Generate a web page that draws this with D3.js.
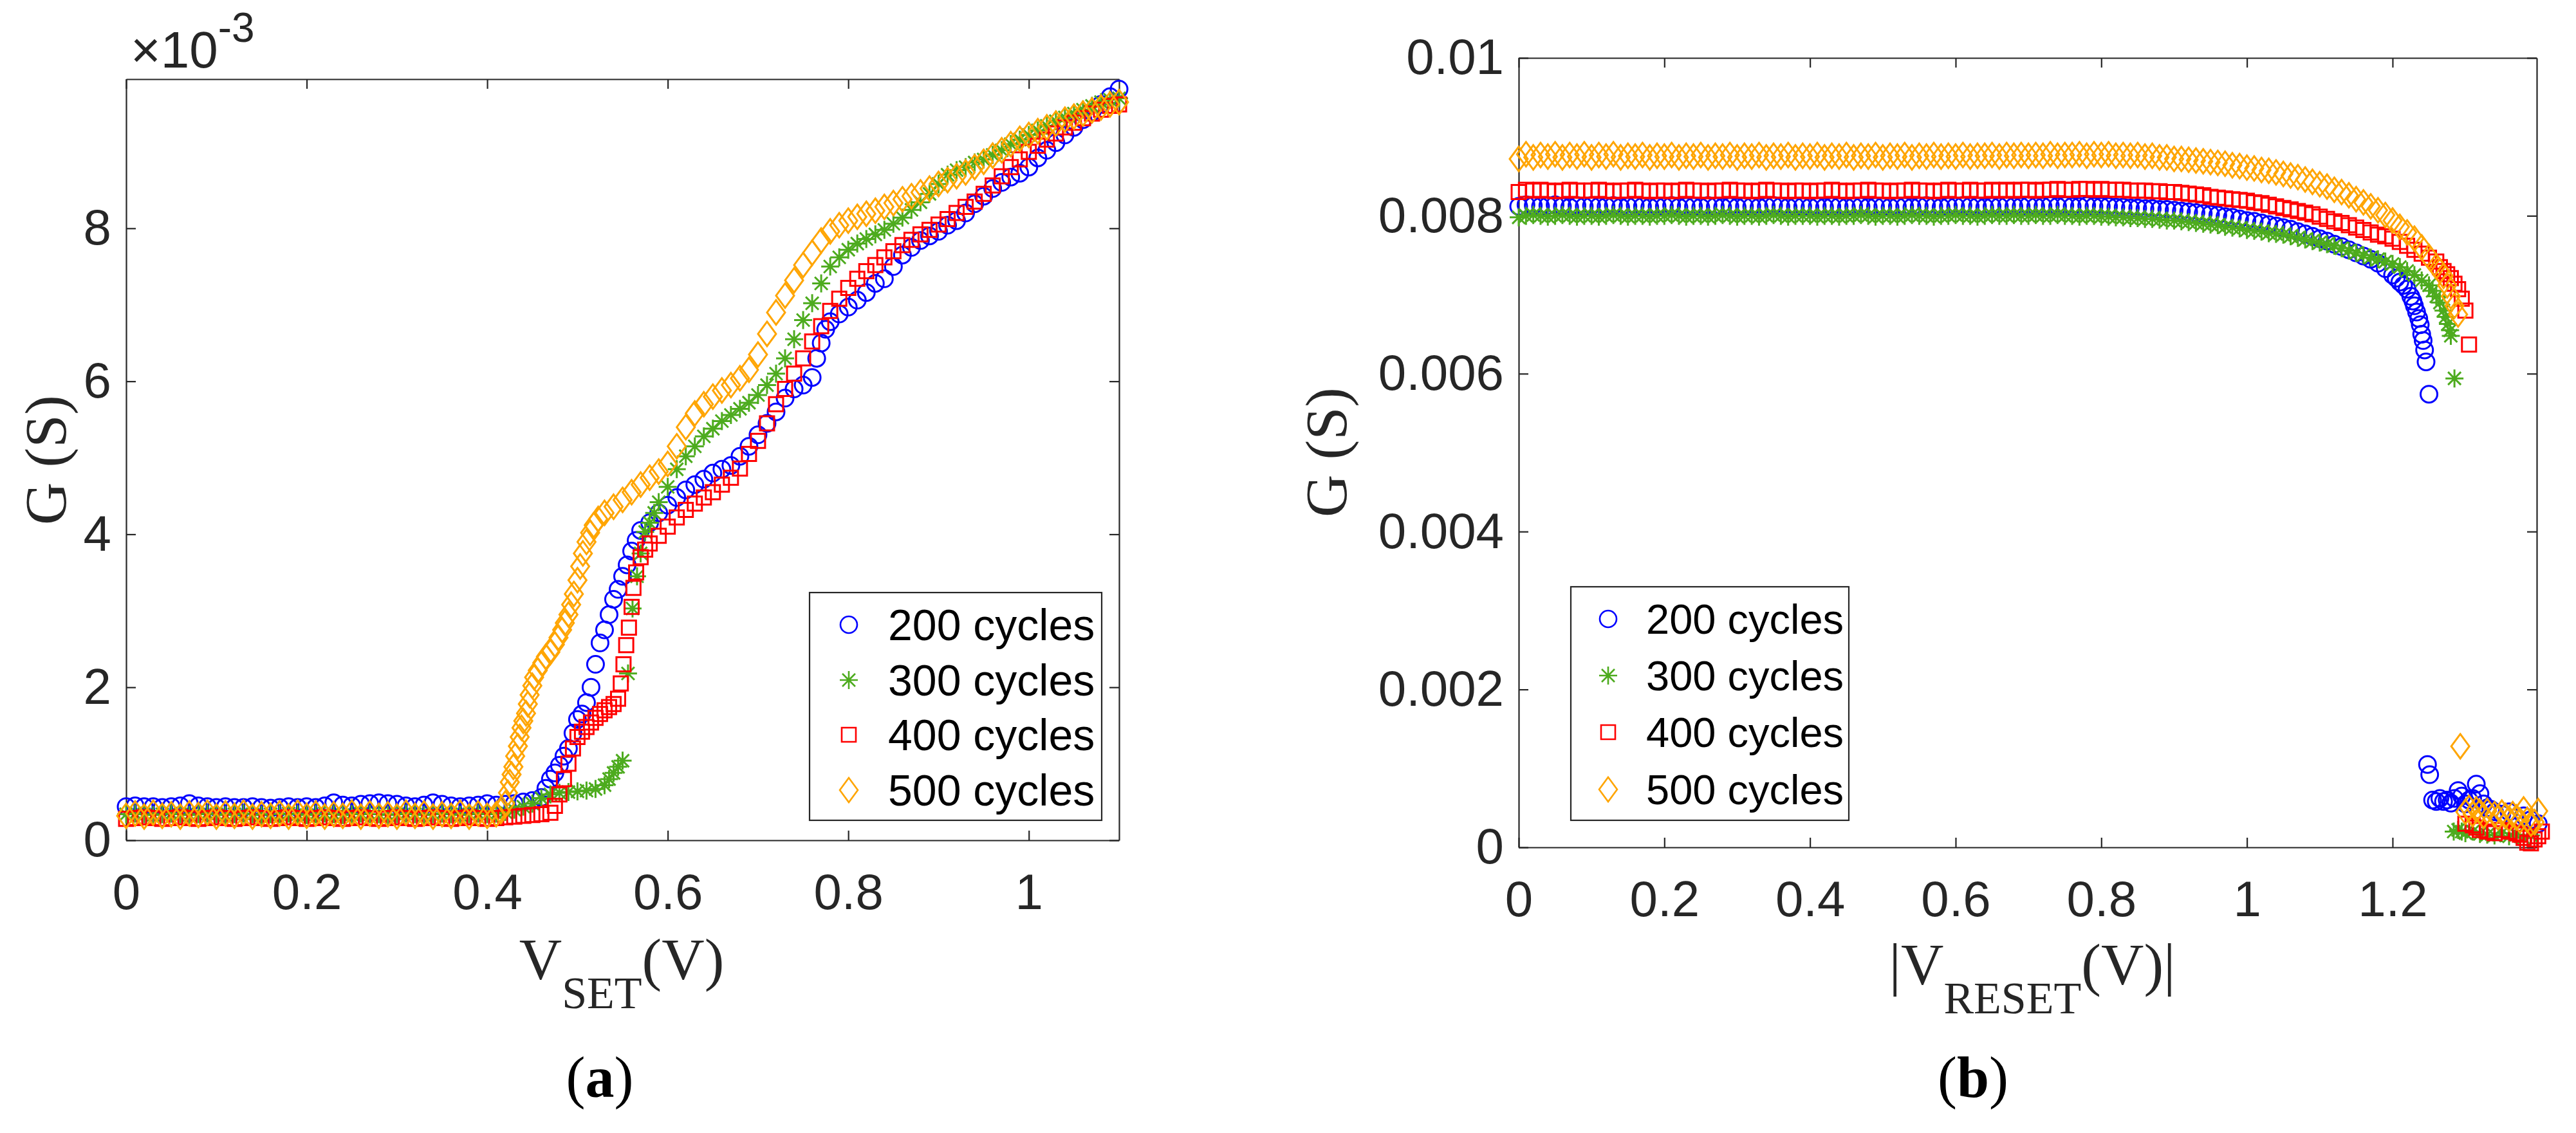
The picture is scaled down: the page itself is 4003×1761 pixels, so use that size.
<!DOCTYPE html>
<html>
<head>
<meta charset="utf-8">
<script src="https://cdn.jsdelivr.net/npm/d3@7"></script>
<style>
  body { margin: 0; background: #fff; }
</style>
</head>
<body>
<script>
// ---------------- data (V in volts, G in 1e-3 S) ----------------

// (a) SET sweep, [V, G]
var set200 = [
  [0.00,0.44],[0.01,0.45],[0.02,0.44],[0.03,0.44],[0.04,0.43],[0.05,0.44],[0.06,0.45],[0.07,0.48],[0.08,0.45],[0.09,0.44],
  [0.10,0.43],[0.11,0.44],[0.12,0.43],[0.13,0.43],[0.14,0.44],[0.15,0.43],[0.16,0.42],[0.17,0.43],[0.18,0.44],[0.19,0.43],
  [0.20,0.44],[0.21,0.43],[0.22,0.45],[0.23,0.49],[0.24,0.46],[0.25,0.45],[0.26,0.47],[0.27,0.48],[0.28,0.49],[0.29,0.48],
  [0.30,0.47],[0.31,0.45],[0.32,0.44],[0.33,0.46],[0.34,0.49],[0.35,0.47],[0.36,0.45],[0.37,0.44],[0.38,0.45],[0.39,0.46],
  [0.40,0.48],[0.41,0.46],[0.42,0.47],[0.43,0.48],[0.44,0.50],[0.45,0.52],[0.46,0.56],[0.465,0.68],[0.47,0.80],[0.475,0.88],
  [0.48,0.98],[0.485,1.10],[0.49,1.20],[0.495,1.40],[0.50,1.58],[0.505,1.65],[0.51,1.80],[0.515,2.00],[0.52,2.30],[0.525,2.58],
  [0.53,2.75],[0.535,2.95],[0.54,3.15],[0.545,3.28],[0.55,3.45],[0.555,3.60],[0.56,3.78],[0.565,3.92],[0.57,4.05],[0.58,4.15],
  [0.59,4.28],[0.60,4.38],[0.61,4.48],[0.62,4.58],[0.63,4.65],[0.64,4.72],[0.65,4.80],[0.66,4.85],[0.67,4.90],[0.68,5.02],
  [0.69,5.15],[0.70,5.30],[0.71,5.45],[0.72,5.60],[0.73,5.78],[0.74,5.90],[0.75,5.95],[0.76,6.05],[0.765,6.30],[0.77,6.50],
  [0.775,6.68],[0.78,6.78],[0.79,6.88],[0.80,6.97],[0.81,7.06],[0.82,7.16],[0.83,7.28],[0.84,7.34],[0.85,7.50],[0.86,7.65],
  [0.87,7.75],[0.88,7.84],[0.89,7.90],[0.90,7.96],[0.91,8.04],[0.92,8.10],[0.93,8.20],[0.94,8.32],[0.95,8.42],[0.96,8.52],
  [0.97,8.60],[0.98,8.67],[0.99,8.72],[1.00,8.80],[1.01,8.92],[1.02,9.02],[1.03,9.12],[1.04,9.22],[1.05,9.32],[1.06,9.42],
  [1.07,9.52],[1.08,9.62],[1.09,9.72],[1.10,9.82]
];
var set300 = [
  [0.00,0.34],[0.01,0.35],[0.02,0.34],[0.03,0.33],[0.04,0.34],[0.05,0.35],[0.06,0.34],[0.07,0.33],[0.08,0.34],[0.09,0.35],
  [0.10,0.34],[0.11,0.33],[0.12,0.34],[0.13,0.35],[0.14,0.34],[0.15,0.33],[0.16,0.34],[0.17,0.34],[0.18,0.35],[0.19,0.34],
  [0.20,0.33],[0.21,0.34],[0.22,0.35],[0.23,0.34],[0.24,0.33],[0.25,0.34],[0.26,0.35],[0.27,0.34],[0.28,0.34],[0.29,0.33],
  [0.30,0.34],[0.31,0.35],[0.32,0.34],[0.33,0.33],[0.34,0.34],[0.35,0.35],[0.36,0.34],[0.37,0.33],[0.38,0.34],[0.39,0.35],
  [0.40,0.34],[0.41,0.35],[0.42,0.37],[0.43,0.40],[0.44,0.44],[0.45,0.48],[0.46,0.55],[0.47,0.60],[0.48,0.62],[0.49,0.63],
  [0.50,0.64],[0.51,0.65],[0.52,0.67],[0.53,0.72],[0.535,0.80],[0.54,0.88],[0.545,0.96],[0.55,1.04],[0.556,2.18],[0.561,3.03],
  [0.566,3.45],[0.57,3.75],[0.575,4.03],[0.58,4.15],[0.585,4.28],[0.59,4.42],[0.60,4.62],[0.61,4.85],[0.62,5.02],[0.63,5.15],
  [0.64,5.28],[0.65,5.38],[0.66,5.48],[0.67,5.56],[0.68,5.64],[0.69,5.72],[0.70,5.82],[0.71,5.95],[0.72,6.10],[0.73,6.30],
  [0.74,6.55],[0.75,6.80],[0.76,7.02],[0.77,7.28],[0.78,7.50],[0.79,7.62],[0.80,7.72],[0.81,7.80],[0.82,7.86],[0.83,7.92],
  [0.84,7.98],[0.85,8.06],[0.86,8.14],[0.87,8.24],[0.88,8.34],[0.89,8.45],[0.90,8.58],[0.91,8.70],[0.92,8.76],[0.93,8.80],
  [0.94,8.86],[0.95,8.90],[0.96,8.96],[0.97,9.02],[0.98,9.10],[0.99,9.16],[1.00,9.22],[1.01,9.28],[1.02,9.34],[1.03,9.40],
  [1.04,9.45],[1.05,9.50],[1.06,9.55],[1.07,9.60],[1.08,9.65],[1.09,9.68],[1.10,9.70]
];
var set400 = [
  [0.00,0.28],[0.01,0.29],[0.02,0.30],[0.03,0.29],[0.04,0.28],[0.05,0.29],[0.06,0.30],[0.07,0.29],[0.08,0.28],[0.09,0.29],
  [0.10,0.30],[0.11,0.29],[0.12,0.28],[0.13,0.29],[0.14,0.30],[0.15,0.29],[0.16,0.28],[0.17,0.29],[0.18,0.30],[0.19,0.29],
  [0.20,0.28],[0.21,0.29],[0.22,0.30],[0.23,0.29],[0.24,0.28],[0.25,0.29],[0.26,0.30],[0.27,0.29],[0.28,0.28],[0.29,0.29],
  [0.30,0.30],[0.31,0.29],[0.32,0.28],[0.33,0.29],[0.34,0.30],[0.35,0.29],[0.36,0.28],[0.37,0.29],[0.38,0.30],[0.39,0.29],
  [0.40,0.28],[0.41,0.29],[0.42,0.30],[0.43,0.31],[0.44,0.32],[0.45,0.33],[0.46,0.34],[0.47,0.36],[0.475,0.45],[0.48,0.60],
  [0.485,0.80],[0.49,1.00],[0.495,1.20],[0.50,1.35],[0.505,1.42],[0.51,1.48],[0.515,1.54],[0.52,1.60],[0.525,1.65],[0.53,1.70],
  [0.535,1.74],[0.54,1.78],[0.545,1.85],[0.548,2.05],[0.551,2.30],[0.554,2.55],[0.557,2.78],[0.56,3.05],[0.562,3.30],[0.565,3.50],
  [0.57,3.70],[0.575,3.80],[0.58,3.88],[0.59,3.98],[0.60,4.10],[0.61,4.22],[0.62,4.32],[0.63,4.40],[0.64,4.48],[0.65,4.55],
  [0.66,4.65],[0.67,4.74],[0.68,4.86],[0.69,5.05],[0.70,5.22],[0.71,5.45],[0.72,5.70],[0.73,5.90],[0.74,6.10],[0.75,6.30],
  [0.76,6.52],[0.77,6.72],[0.78,6.92],[0.79,7.08],[0.80,7.22],[0.81,7.34],[0.82,7.44],[0.83,7.52],[0.84,7.62],[0.85,7.70],
  [0.86,7.78],[0.87,7.85],[0.88,7.92],[0.89,7.98],[0.90,8.05],[0.91,8.12],[0.92,8.20],[0.93,8.28],[0.94,8.35],[0.95,8.45],
  [0.96,8.56],[0.97,8.68],[0.98,8.80],[0.99,8.90],[1.00,9.00],[1.01,9.08],[1.02,9.16],[1.03,9.24],[1.04,9.32],[1.05,9.38],
  [1.06,9.44],[1.07,9.50],[1.08,9.55],[1.09,9.60],[1.10,9.62]
];
var set500 = [
  [0.00,0.32],[0.01,0.35],[0.02,0.31],[0.03,0.36],[0.04,0.32],[0.05,0.34],[0.06,0.31],[0.07,0.35],[0.08,0.33],[0.09,0.36],
  [0.10,0.31],[0.11,0.35],[0.12,0.32],[0.13,0.36],[0.14,0.31],[0.15,0.34],[0.16,0.32],[0.17,0.35],[0.18,0.31],[0.19,0.36],
  [0.20,0.32],[0.21,0.35],[0.22,0.31],[0.23,0.34],[0.24,0.32],[0.25,0.36],[0.26,0.31],[0.27,0.35],[0.28,0.32],[0.29,0.34],
  [0.30,0.31],[0.31,0.36],[0.32,0.32],[0.33,0.35],[0.34,0.31],[0.35,0.34],[0.36,0.32],[0.37,0.36],[0.38,0.31],[0.39,0.35],
  [0.40,0.32],[0.41,0.34],[0.415,0.38],[0.42,0.48],[0.423,0.62],[0.425,0.76],[0.427,0.86],[0.429,0.96],[0.431,1.10],[0.434,1.23],
  [0.436,1.35],[0.438,1.47],[0.44,1.56],[0.443,1.66],[0.445,1.78],[0.447,1.90],[0.45,2.02],[0.452,2.13],[0.456,2.22],[0.461,2.32],
  [0.465,2.40],[0.47,2.46],[0.475,2.56],[0.479,2.65],[0.483,2.75],[0.486,2.84],[0.49,2.95],[0.493,3.08],[0.496,3.22],[0.50,3.40],
  [0.503,3.58],[0.506,3.75],[0.51,3.90],[0.514,4.02],[0.518,4.12],[0.523,4.20],[0.53,4.28],[0.54,4.36],[0.55,4.45],[0.56,4.55],
  [0.57,4.65],[0.58,4.74],[0.59,4.82],[0.60,4.92],[0.61,5.15],[0.62,5.40],[0.63,5.58],[0.64,5.70],[0.65,5.80],[0.66,5.88],
  [0.67,5.95],[0.68,6.04],[0.69,6.15],[0.70,6.35],[0.71,6.62],[0.72,6.90],[0.73,7.12],[0.74,7.32],[0.75,7.52],[0.76,7.68],
  [0.77,7.84],[0.78,7.96],[0.79,8.04],[0.80,8.10],[0.81,8.15],[0.82,8.19],[0.83,8.23],[0.84,8.28],[0.85,8.33],[0.86,8.38],
  [0.87,8.42],[0.88,8.47],[0.89,8.52],[0.90,8.58],[0.91,8.63],[0.92,8.68],[0.93,8.73],[0.94,8.80],[0.95,8.87],[0.96,8.95],
  [0.97,9.02],[0.98,9.10],[0.99,9.17],[1.00,9.22],[1.01,9.27],[1.02,9.32],[1.03,9.37],[1.04,9.42],[1.05,9.46],[1.06,9.50],
  [1.07,9.54],[1.08,9.58],[1.09,9.62],[1.10,9.65]
];

// (b) RESET sweep: common |V| grid 0 .. 1.20, then each curve's knee and tail as [V, G]
var resetGrid = [
  0.00,0.01,0.02,0.03,0.04,0.05,0.06,0.07,0.08,0.09,0.10,0.11,0.12,0.13,0.14,0.15,0.16,0.17,0.18,0.19,
  0.20,0.21,0.22,0.23,0.24,0.25,0.26,0.27,0.28,0.29,0.30,0.31,0.32,0.33,0.34,0.35,0.36,0.37,0.38,0.39,
  0.40,0.41,0.42,0.43,0.44,0.45,0.46,0.47,0.48,0.49,0.50,0.51,0.52,0.53,0.54,0.55,0.56,0.57,0.58,0.59,
  0.60,0.61,0.62,0.63,0.64,0.65,0.66,0.67,0.68,0.69,0.70,0.71,0.72,0.73,0.74,0.75,0.76,0.77,0.78,0.79,
  0.80,0.81,0.82,0.83,0.84,0.85,0.86,0.87,0.88,0.89,0.90,0.91,0.92,0.93,0.94,0.95,0.96,0.97,0.98,0.99,
  1.00,1.01,1.02,1.03,1.04,1.05,1.06,1.07,1.08,1.09,1.10,1.11,1.12,1.13,1.14,1.15,1.16,1.17,1.18,1.19,
  1.20
];
var reset200 = [
  8.12,8.14,8.13,8.12,8.13,8.14,8.12,8.11,8.13,8.12,8.13,8.12,8.12,8.13,8.11,8.12,8.13,8.12,8.11,8.12,
  8.12,8.13,8.11,8.12,8.12,8.11,8.13,8.12,8.11,8.12,8.11,8.12,8.12,8.11,8.12,8.13,8.12,8.11,8.12,8.12,
  8.11,8.12,8.11,8.12,8.12,8.11,8.12,8.12,8.11,8.12,8.12,8.11,8.12,8.12,8.11,8.12,8.13,8.12,8.11,8.12,
  8.12,8.13,8.12,8.12,8.11,8.12,8.12,8.13,8.12,8.12,8.13,8.12,8.12,8.13,8.12,8.13,8.12,8.12,8.13,8.12,
  8.12,8.12,8.11,8.11,8.10,8.10,8.09,8.09,8.08,8.08,8.07,8.06,8.05,8.04,8.03,8.02,8.01,7.99,7.98,7.96,
  7.94,7.93,7.91,7.89,7.87,7.85,7.83,7.80,7.77,7.74,7.71,7.68,7.64,7.61,7.57,7.53,7.49,7.45,7.40,7.33,
  7.25
];
var reset300 = [
  7.98,8.00,8.01,8.00,7.99,8.00,8.01,8.00,7.99,8.00,8.00,7.99,8.00,8.01,8.00,7.99,8.00,8.00,7.99,8.00,
  8.00,8.01,8.00,7.99,8.00,8.00,7.99,8.00,8.01,8.00,7.99,8.00,8.00,7.99,8.00,8.01,8.00,7.99,8.00,8.00,
  8.00,7.99,8.00,8.00,7.99,8.00,8.00,8.01,8.00,7.99,8.00,8.00,7.99,8.00,8.01,8.00,8.00,7.99,8.00,8.00,
  8.01,8.00,8.00,7.99,8.00,8.01,8.00,8.00,8.01,8.00,8.00,8.01,8.00,8.00,8.01,8.00,8.00,7.99,8.00,8.00,
  7.99,7.99,7.98,7.98,7.97,7.97,7.96,7.96,7.95,7.94,7.94,7.93,7.92,7.91,7.90,7.89,7.88,7.86,7.85,7.84,
  7.82,7.81,7.80,7.78,7.77,7.76,7.74,7.72,7.70,7.68,7.66,7.64,7.62,7.59,7.56,7.53,7.50,7.47,7.45,7.42,
  7.39
];
var reset400 = [
  8.30,8.33,8.32,8.33,8.32,8.31,8.32,8.33,8.32,8.32,8.32,8.33,8.32,8.31,8.32,8.32,8.33,8.32,8.31,8.32,
  8.32,8.31,8.32,8.33,8.32,8.32,8.31,8.32,8.32,8.33,8.32,8.32,8.31,8.32,8.33,8.32,8.32,8.31,8.32,8.32,
  8.31,8.32,8.32,8.33,8.32,8.31,8.32,8.32,8.33,8.32,8.32,8.31,8.32,8.32,8.33,8.32,8.32,8.31,8.32,8.33,
  8.32,8.32,8.33,8.32,8.32,8.33,8.32,8.33,8.32,8.33,8.33,8.32,8.33,8.33,8.34,8.33,8.33,8.34,8.34,8.33,
  8.34,8.33,8.33,8.33,8.32,8.32,8.32,8.31,8.31,8.30,8.30,8.29,8.28,8.27,8.26,8.24,8.23,8.22,8.21,8.20,
  8.19,8.17,8.16,8.14,8.12,8.10,8.08,8.06,8.04,8.02,7.99,7.96,7.93,7.91,7.88,7.85,7.82,7.79,7.76,7.74,
  7.71
];
var reset500 = [
  8.72,8.78,8.74,8.77,8.75,8.78,8.74,8.77,8.75,8.78,8.74,8.77,8.75,8.78,8.74,8.76,8.75,8.77,8.74,8.76,
  8.75,8.77,8.74,8.76,8.75,8.77,8.74,8.76,8.75,8.77,8.74,8.76,8.75,8.77,8.74,8.76,8.75,8.77,8.74,8.76,
  8.75,8.77,8.74,8.76,8.75,8.77,8.74,8.76,8.75,8.77,8.74,8.76,8.75,8.77,8.74,8.76,8.75,8.77,8.75,8.76,
  8.75,8.77,8.75,8.76,8.76,8.77,8.75,8.77,8.76,8.77,8.76,8.77,8.76,8.78,8.76,8.77,8.77,8.78,8.76,8.78,
  8.77,8.78,8.76,8.77,8.76,8.77,8.75,8.76,8.74,8.74,8.72,8.72,8.71,8.70,8.69,8.68,8.67,8.66,8.64,8.63,
  8.61,8.60,8.58,8.57,8.55,8.53,8.51,8.49,8.46,8.43,8.40,8.37,8.33,8.30,8.26,8.21,8.17,8.12,8.07,8.01,
  7.94
];
var reset200Tail = [
  [1.205,7.21],[1.21,7.16],[1.215,7.12],[1.22,7.07],[1.225,6.98],[1.228,6.92],[1.23,6.86],[1.233,6.78],[1.236,6.70],
  [1.238,6.62],[1.24,6.50],[1.242,6.42],[1.244,6.30],[1.246,6.15],[1.25,5.74],
  [1.248,1.05],[1.251,0.92],[1.255,0.60],[1.26,0.58],[1.265,0.62],[1.27,0.58],[1.275,0.60],[1.28,0.56],[1.285,0.62],
  [1.29,0.72],[1.295,0.65],[1.30,0.55],[1.305,0.60],[1.31,0.62],[1.315,0.80],[1.32,0.68],[1.325,0.55],[1.33,0.50],
  [1.335,0.48],[1.34,0.45],[1.35,0.42],[1.36,0.45],[1.37,0.38],[1.38,0.40],[1.39,0.35],[1.40,0.30]
];
var reset300Tail = [
  [1.21,7.35],[1.22,7.30],[1.23,7.25],[1.24,7.18],[1.25,7.12],[1.255,7.05],[1.26,6.98],[1.265,6.90],[1.27,6.80],
  [1.273,6.72],[1.276,6.63],[1.279,6.55],[1.28,6.48],[1.285,5.94],
  [1.284,0.20],[1.29,0.22],[1.295,0.20],[1.30,0.18],[1.31,0.20],[1.32,0.17],[1.33,0.16],[1.34,0.15],[1.35,0.18],
  [1.36,0.14],[1.37,0.16],[1.38,0.12],[1.39,0.15]
];
var reset400Tail = [
  [1.21,7.67],[1.22,7.62],[1.23,7.57],[1.24,7.52],[1.25,7.47],[1.26,7.42],[1.265,7.35],[1.27,7.30],[1.275,7.26],
  [1.28,7.21],[1.285,7.14],[1.29,7.07],[1.295,6.95],[1.30,6.80],[1.305,6.37],
  [1.30,0.30],[1.31,0.28],[1.315,0.25],[1.32,0.22],[1.33,0.20],[1.34,0.18],[1.35,0.22],[1.36,0.20],[1.37,0.18],
  [1.375,0.16],[1.38,0.12],[1.385,0.06],[1.39,0.05],[1.395,0.10],[1.40,0.14],[1.405,0.20]
];
var reset500Tail = [
  [1.21,7.86],[1.22,7.79],[1.23,7.71],[1.24,7.60],[1.25,7.48],[1.26,7.36],[1.265,7.30],[1.27,7.24],[1.275,7.12],
  [1.28,6.98],[1.285,6.86],[1.29,6.75],
  [1.293,1.28],[1.30,0.45],[1.305,0.50],[1.31,0.42],[1.315,0.48],[1.32,0.45],[1.325,0.40],[1.33,0.46],[1.34,0.42],
  [1.345,0.38],[1.35,0.44],[1.355,0.40],[1.36,0.36],[1.365,0.42],[1.37,0.38],[1.375,0.34],[1.38,0.48],[1.385,0.35],
  [1.39,0.30],[1.395,0.32],[1.40,0.46]
];

var seriesNames = ['200 cycles', '300 cycles', '400 cycles', '500 cycles'];
var setXTicks = [0, 0.2, 0.4, 0.6, 0.8, 1];
var setYTicks = [0, 2, 4, 6, 8];
var resetXTicks = [0, 0.2, 0.4, 0.6, 0.8, 1, 1.2];
var resetYTicks = [0, 2, 4, 6, 8, 10];

// ---------------- look ----------------
var colors = ['#0000ff', '#4dab1e', '#ff0000', '#ffa500'];
var markers = ['circle', 'asterisk', 'square', 'diamond'];
var axisColor = '#262626';
var sans = 'Liberation Sans, Arial, Helvetica, sans-serif';
var serif = 'Liberation Serif, Times New Roman, serif';

var svg = d3.select('body').append('svg')
    .attr('width', 4003)
    .attr('height', 1761)
    .style('display', 'block');

svg.append('rect').attr('width', 4003).attr('height', 1761).attr('fill', '#fff');

//marker shapes, MATLAB style
function markerPath(type) {
  if (type === 'circle') return 'M-13,0A13,13 0 1,0 13,0A13,13 0 1,0 -13,0Z';
  if (type === 'square') return 'M-11,-11H11V11H-11Z';
  if (type === 'diamond') return 'M0,-19L14,0L0,19L-14,0Z';
  return 'M-14,0H14M0,-14V14M-10,-10L10,10M-10,10L10,-10';
}

function fmtNum(d) { return String(+d.toFixed(3)); }

//box with inward ticks on all four sides
function drawAxes(g, x, y, xTicks, yTicks, xFmt, yFmt) {
  var r = x.range(), b = y.range();
  var parts = [
    g.append('g').attr('transform', 'translate(0,' + b[0] + ')')
      .call(d3.axisBottom(x).tickValues(xTicks).tickSize(-15).tickSizeOuter(0).tickPadding(52).tickFormat(xFmt)),
    g.append('g').attr('transform', 'translate(0,' + b[1] + ')')
      .call(d3.axisTop(x).tickValues(xTicks).tickSize(-15).tickSizeOuter(0).tickFormat('')),
    g.append('g').attr('transform', 'translate(' + r[0] + ',0)')
      .call(d3.axisLeft(y).tickValues(yTicks).tickSize(-15).tickSizeOuter(0).tickPadding(23).tickFormat(yFmt)),
    g.append('g').attr('transform', 'translate(' + r[1] + ',0)')
      .call(d3.axisRight(y).tickValues(yTicks).tickSize(-15).tickSizeOuter(0).tickFormat(''))
  ];
  parts.forEach(function(a) {
    a.attr('font-family', sans).attr('font-size', 78);
    a.selectAll('path, line').attr('stroke', axisColor).attr('stroke-width', 2.2);
    a.selectAll('text').attr('fill', axisColor);
  });
}

function drawSeries(g, x, y, series) {
  series.forEach(function(pts, i) {
    g.append('g').selectAll('path')
      .data(pts)
      .enter().append('path')
      .attr('transform', function(d) { return 'translate(' + x(d[0]) + ',' + y(d[1]) + ')'; })
      .attr('d', markerPath(markers[i]))
      .attr('fill', 'none')
      .attr('stroke', colors[i])
      .attr('stroke-width', 3);
  });
}

function drawLegend(g, left, top, w, h, rows, markerX, textX, fontSize) {
  g.append('rect')
    .attr('x', left).attr('y', top).attr('width', w).attr('height', h)
    .attr('fill', '#fff').attr('stroke', axisColor).attr('stroke-width', 2.2);
  seriesNames.forEach(function(name, i) {
    g.append('path')
      .attr('transform', 'translate(' + markerX + ',' + rows[i] + ')')
      .attr('d', markerPath(markers[i]))
      .attr('fill', 'none').attr('stroke', colors[i]).attr('stroke-width', 2.6);
    g.append('text')
      .attr('x', textX).attr('y', rows[i] + fontSize * 0.36)
      .attr('font-family', sans).attr('font-size', fontSize)
      .attr('fill', '#000')
      .text(name);
  });
}

// ================= panel (a) =================
var gA = svg.append('g');
var xA = d3.scaleLinear().domain([0, 1.1]).range([196, 1739]);
var yA = d3.scaleLinear().domain([0, 9.95]).range([1306, 123]);

drawAxes(gA, xA, yA, setXTicks, setYTicks, fmtNum, fmtNum);
drawSeries(gA, xA, yA, [set200, set300, set400, set500]);
drawLegend(gA, 1258, 921, 454, 354, [971, 1057, 1142, 1228], 1319, 1380, 68);

//exponent label
gA.append('text')
    .attr('x', 203).attr('y', 105)
    .attr('font-family', sans).attr('font-size', 80).attr('fill', axisColor)
    .text('\u00d710')
  .append('tspan')
    .attr('dy', -40).attr('font-size', 64)
    .text('-3');

gA.append('text')
    .attr('transform', 'translate(102,715) rotate(-90)')
    .attr('text-anchor', 'middle')
    .attr('font-family', serif).attr('font-size', 92).attr('fill', axisColor)
    .text('G (S)');

var labA = gA.append('text')
    .attr('x', 966).attr('y', 1522)
    .attr('text-anchor', 'middle')
    .attr('font-family', serif).attr('font-size', 92).attr('fill', axisColor);
labA.append('tspan').text('V');
labA.append('tspan').attr('font-size', 70).attr('dy', 45).text('SET');
labA.append('tspan').attr('dy', -45).text('(V)');

var capA = gA.append('text')
    .attr('x', 932).attr('y', 1705)
    .attr('text-anchor', 'middle')
    .attr('font-family', serif).attr('font-size', 90).attr('fill', '#000');
capA.append('tspan').text('(');
capA.append('tspan').attr('font-weight', 'bold').text('a');
capA.append('tspan').text(')');

// ================= panel (b) =================
var gB = svg.append('g');
var xB = d3.scaleLinear().domain([0, 1.398]).range([2360, 3942]);
var yB = d3.scaleLinear().domain([0, 10]).range([1317, 90]);

function onGrid(vals, tail) {
  return resetGrid.map(function(v, i) { return [v, vals[i]]; }).concat(tail);
}

drawAxes(gB, xB, yB, resetXTicks, resetYTicks, fmtNum, function(d) { return fmtNum(d / 1000); });
drawSeries(gB, xB, yB, [
  onGrid(reset200, reset200Tail),
  onGrid(reset300, reset300Tail),
  onGrid(reset400, reset400Tail),
  onGrid(reset500, reset500Tail)
]);
drawLegend(gB, 2441, 912, 432, 363, [962, 1050, 1138, 1227], 2499, 2558, 65);

gB.append('text')
    .attr('transform', 'translate(2092,703) rotate(-90)')
    .attr('text-anchor', 'middle')
    .attr('font-family', serif).attr('font-size', 92).attr('fill', axisColor)
    .text('G (S)');

var labB = gB.append('text')
    .attr('x', 3158).attr('y', 1530)
    .attr('text-anchor', 'middle')
    .attr('font-family', serif).attr('font-size', 92).attr('fill', axisColor);
labB.append('tspan').text('|V');
labB.append('tspan').attr('font-size', 70).attr('dy', 45).text('RESET');
labB.append('tspan').attr('dy', -45).text('(V)|');

var capB = gB.append('text')
    .attr('x', 3066).attr('y', 1705)
    .attr('text-anchor', 'middle')
    .attr('font-family', serif).attr('font-size', 90).attr('fill', '#000');
capB.append('tspan').text('(');
capB.append('tspan').attr('font-weight', 'bold').text('b');
capB.append('tspan').text(')');
</script>
</body>
</html>
